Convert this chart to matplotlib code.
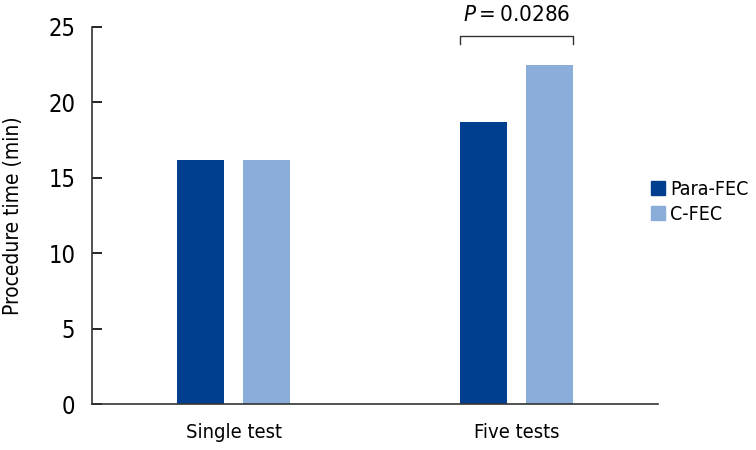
import matplotlib
matplotlib.use('Agg')
import matplotlib.pyplot as plt
import numpy as np
from matplotlib.patches import Patch

plt.rcParams['font.family'] = ['DejaVu Sans']
plt.rcParams['font.stretch'] = 'condensed'

categories = ['Single test', 'Five tests']
para_fec = [16.2, 18.7]
c_fec = [16.15, 22.5]
p_label = '0.0286'

dark = '#003E8F'
light = '#8BADD9'

fig = plt.figure(figsize=(7.56, 4.5), dpi=100)
ax = fig.add_axes([92/756, 46/450, 566/756, 377/450])

x = np.arange(len(categories))
w = 0.166
off = 0.1164
ax.bar(x - off, para_fec, w, color=dark)
ax.bar(x + off, c_fec, w, color=light)

ax.set_xlim(-0.5, 1.5)
ax.set_ylim(0, 25)
ax.set_yticks([0, 5, 10, 15, 20, 25])
ax.set_xticks(x)
ax.set_xticklabels(categories, fontsize=14.5)
ax.tick_params(axis='x', length=0, pad=14)
ax.tick_params(axis='y', direction='in', length=7, width=1.2, labelsize=17, pad=12)
for s in ['top', 'right']:
    ax.spines[s].set_visible(False)
for s in ['left', 'bottom']:
    ax.spines[s].set_linewidth(1.2)
    ax.spines[s].set_color('#333333')
ax.set_ylabel('Procedure time (min)', fontsize=15, labelpad=18)

# significance bracket over "Five tests"
x0, x1 = x[1] - off - w/2, x[1] + off + w/2
ax.plot([x0, x0, x1, x1], [23.9, 24.4, 24.4, 23.9], color='#333333', lw=1, clip_on=False)
ax.text(x[1], 25.15, r'$P$$=$' + p_label, ha='center', va='bottom', fontsize=16, clip_on=False)

handles = [Patch(color=dark, label='Para-FEC'), Patch(color=light, label='C-FEC')]
fig.legend(handles=handles, loc='center left', bbox_to_anchor=(651/756, 1 - 202/450),
           frameon=False, fontsize=14, handlelength=0.7, handleheight=0.75,
           handletextpad=0.3, labelspacing=0.3, borderaxespad=0, borderpad=0)

fig.savefig('out.png', dpi=100)
